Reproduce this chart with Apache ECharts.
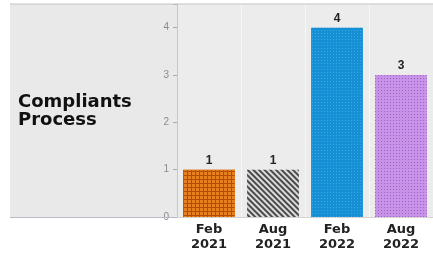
<!DOCTYPE html>
<html>
<head>
<meta charset="utf-8">
<script src="https://cdn.jsdelivr.net/npm/echarts@6/dist/echarts.min.js"></script>
<style>
html,body{margin:0;padding:0;background:#fff;}
#c{width:433px;height:255px;}
</style>
</head>
<body>
<div id="c"></div>
<script>
const categories = ['Feb\n2021', 'Aug\n2021', 'Feb\n2022', 'Aug\n2022'];
const values = [1, 1, 4, 3];
const yTicks = [0, 1, 2, 3, 4];
const panelTitle = 'Compliants\nProcess';

const barStyles = [
  { color: '#b44d06', decal: { symbol: 'rect', color: '#e6801f', dashArrayX: [3, 1], dashArrayY: [3, 1], symbolSize: 1 } },
  { color: '#dcdcdc', decal: { symbol: 'rect', color: '#4a4a4a', dashArrayX: [1, 0], dashArrayY: [2, 2], rotation: Math.PI / 4 } },
  { color: '#1590d4', decal: { symbol: 'rect', color: '#3aa6e4', dashArrayX: [1, 2], dashArrayY: [1, 2], symbolSize: 1 } },
  { color: '#c892e8', decal: { symbol: 'rect', color: '#9b66c2', dashArrayX: [1, 2], dashArrayY: [1, 2], symbolSize: 1 } }
];

const chart = echarts.init(document.getElementById('c'), null, { renderer: 'canvas' });
chart.setOption({
  animation: false,
  backgroundColor: '#ffffff',
  grid: { left: 177, right: 0, top: 4, bottom: 38, show: true, backgroundColor: '#ececec', borderWidth: 0 },
  graphic: [
    { type: 'rect', z: -10, shape: { x: 10, y: 4, width: 167, height: 213 }, style: { fill: '#e9e9e9' } },
    { type: 'line', z: 10, shape: { x1: 10, y1: 4, x2: 433, y2: 4 }, style: { stroke: '#c4c4c4', lineWidth: 1 } },
    { type: 'line', z: 10, shape: { x1: 10, y1: 217.5, x2: 177, y2: 217.5 }, style: { stroke: '#b8bcc4', lineWidth: 1 } },
    { type: 'text', left: 18, top: 93, z: 10,
      style: { text: panelTitle, font: 'bold 18px "DejaVu Sans"', lineHeight: 18, fill: '#111' } }
  ],
  xAxis: {
    type: 'category',
    data: categories,
    axisLine: { show: true, lineStyle: { color: '#d4d4d4' } },
    axisTick: { show: false },
    splitLine: { show: true, lineStyle: { color: '#f7f7f7', width: 1 } },
    axisLabel: { interval: 0, margin: 5, fontFamily: 'DejaVu Sans', fontWeight: 'bold', fontSize: 13, lineHeight: 15, color: '#222' }
  },
  yAxis: {
    type: 'value',
    min: 0, max: 4.5, interval: 1,
    axisLine: { show: true, lineStyle: { color: '#c8c8c8' } },
    axisTick: { show: true, length: 4, lineStyle: { color: '#aaa' } },
    splitLine: { show: false },
    axisLabel: { margin: 8, fontSize: 10, color: '#8a8a8a', fontFamily: 'Liberation Sans',
      formatter: v => (yTicks.indexOf(v) >= 0 ? String(v) : '') }
  },
  series: [{
    type: 'bar',
    barWidth: '81%',
    data: values.map((v, i) => ({ value: v, itemStyle: barStyles[i] })),
    label: { show: true, position: 'top', distance: 3, fontFamily: 'Liberation Sans', fontWeight: 'bold', fontSize: 12, color: '#222' }
  }]
});
</script>
</body>
</html>
